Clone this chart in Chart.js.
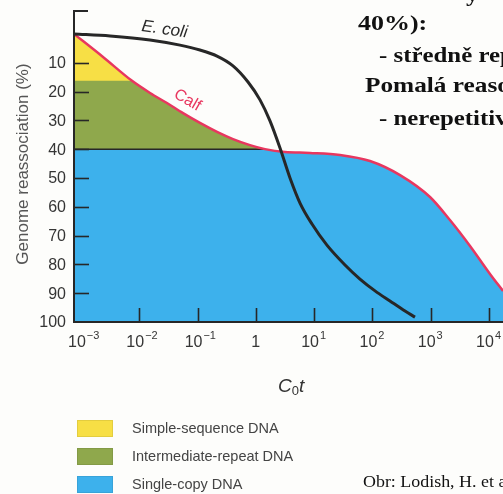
<!DOCTYPE html>
<html>
<head>
<meta charset="utf-8">
<script src="https://cdn.jsdelivr.net/npm/chart.js@4"></script>
<style>
    html, body { margin: 0; padding: 0; background: #fdfdfb; }
    #wrap { width: 503px; height: 494px; }
</style>
</head>
<body>
<div id="wrap"><canvas id="chart" width="503" height="494"></canvas></div>
<script>
// C0t values and % reassociated
const ecoliCot = [0.00076, 0.00316, 0.0153, 0.050, 0.110, 0.216, 0.406, 0.735, 1.18, 1.75, 2.60, 3.86, 5.73, 9.2, 16.6, 33.9, 61.2, 111, 200, 363, 538];
const ecoliPct = [0, 0.7, 2.1, 3.9, 5.6, 7.7, 11.1, 16.7, 22.9, 30.2, 39.6, 50.0, 58.7, 66.0, 73.3, 80.2, 85.1, 89.2, 92.7, 96.2, 98.3];

const calfCot = [0.00076, 0.00239, 0.00752, 0.0153, 0.0299, 0.0564, 0.110, 0.216, 0.406, 0.794, 1.44, 3.17, 8.5, 27.8, 91, 298, 973, 2140, 4730, 10400, 17400];
const calfPct = [0, 8.0, 16.3, 20.5, 24.0, 27.5, 30.9, 34.0, 36.5, 38.6, 40, 41.0, 41.3, 42.0, 44.1, 49.0, 56.6, 64.6, 73.6, 83.3, 89.2];

const simpleLimit = 16.3;  // hranice simple-sequence / intermediate-repeat
const repeatLimit = 40;    // hranice intermediate-repeat / single-copy
const simpleEnd = 3;       // počet bodů křivky Calf do simpleLimit
const repeatEnd = 11;      // počet bodů křivky Calf do repeatLimit

const yTicks = [10, 20, 30, 40, 50, 60, 70, 80, 90, 100];
const xTickExps = [-3, -2, -1, 0, 1, 2, 3, 4];
const legendLabels = ['Simple-sequence DNA', 'Intermediate-repeat DNA', 'Single-copy DNA'];

const YELLOW = '#f7df45', GREEN = '#8fa84c', BLUE = '#3db1ec', RED = '#e8375f', INK = '#272727';
const SANS = '"Liberation Sans", Arial, sans-serif';
const SERIF = '"Liberation Serif", "Times New Roman", serif';

const calf = calfCot.map((x, i) => ({ x, y: calfPct[i] }));
const ecoli = ecoliCot.map((x, i) => ({ x, y: ecoliPct[i] }));

const line = { pointRadius: 0, cubicInterpolationMode: 'monotone' };

function stretchedText(ctx, text, x, y, sx) {
    ctx.save();
    ctx.translate(x, y);
    ctx.scale(sx, 1);
    ctx.fillText(text, 0, 0);
    ctx.restore();
}

const decor = {
    id: 'decor',
    afterDraw(chart) {
        const ctx = chart.ctx, xs = chart.scales.x, ys = chart.scales.y;
        const area = chart.chartArea;
        ctx.save();
        ctx.strokeStyle = INK;
        ctx.lineCap = 'butt';

        // osy
        ctx.lineWidth = 2;
        ctx.beginPath();
        ctx.moveTo(area.left + 14, area.top + 1);
        ctx.lineTo(area.left, area.top + 1);
        ctx.lineTo(area.left, area.bottom);
        ctx.lineTo(area.right, area.bottom);
        ctx.stroke();

        // vnitřní značky
        ctx.lineWidth = 1.6;
        yTicks.slice(0, -1).forEach(v => {
            const py = Math.round(ys.getPixelForValue(v)) + 0.5;
            ctx.beginPath(); ctx.moveTo(area.left, py); ctx.lineTo(area.left + 15, py); ctx.stroke();
        });
        xTickExps.slice(1).forEach(e => {
            const px = Math.round(xs.getPixelForValue(Math.pow(10, e))) + 0.5;
            ctx.beginPath(); ctx.moveTo(px, area.bottom); ctx.lineTo(px, area.bottom - 14); ctx.stroke();
        });

        // popisky osy y
        ctx.fillStyle = '#353535';
        ctx.font = '16px ' + SANS;
        ctx.textAlign = 'right';
        ctx.textBaseline = 'middle';
        yTicks.forEach(v => ctx.fillText(String(v), area.left - 8, ys.getPixelForValue(v) + 1));

        // popisky osy x s exponenty
        ctx.textBaseline = 'alphabetic';
        xTickExps.forEach(e => {
            const px = xs.getPixelForValue(Math.pow(10, e));
            ctx.font = '16px ' + SANS;
            if (e === 0) {
                ctx.textAlign = 'center';
                ctx.fillText('1', px, 347);
                return;
            }
            const w = ctx.measureText('10').width;
            const left = px - 4 - w / 2;
            ctx.textAlign = 'left';
            ctx.fillText('10', left, 347);
            ctx.font = '11px ' + SANS;
            ctx.fillText(e < 0 ? '\u2212' + (-e) : String(e), left + w + 1, 339);
        });

        // název osy x: C0t
        ctx.fillStyle = '#333';
        ctx.textAlign = 'left';
        ctx.font = 'italic 19px ' + SANS;
        let cx = 278;
        ctx.fillText('C', cx, 392);
        cx += ctx.measureText('C').width;
        ctx.font = '13px ' + SANS;
        ctx.fillText('0', cx, 395);
        cx += ctx.measureText('0').width;
        ctx.font = 'italic 19px ' + SANS;
        ctx.fillText('t', cx, 392);

        // název osy y
        ctx.save();
        ctx.translate(28, 164);
        ctx.rotate(-Math.PI / 2);
        ctx.textAlign = 'center';
        ctx.fillStyle = '#555';
        ctx.font = '17px ' + SANS;
        ctx.fillText('Genome reassociation (%)', 0, 0);
        ctx.restore();

        // popisky křivek
        ctx.save();
        ctx.translate(141, 31);
        ctx.rotate(0.14);
        ctx.fillStyle = '#2a2a2a';
        ctx.font = 'italic 17px ' + SANS;
        ctx.textAlign = 'left';
        ctx.fillText('E. coli', 0, 0);
        ctx.restore();

        ctx.save();
        ctx.translate(173, 97);
        ctx.rotate(0.52);
        ctx.fillStyle = RED;
        ctx.font = '16px ' + SANS;
        ctx.fillText('Calf', 0, 0);
        ctx.restore();

        // legenda
        [YELLOW, GREEN, BLUE].forEach((c, i) => {
            const top = 420 + i * 28;
            ctx.fillStyle = c;
            ctx.fillRect(77, top, 36, 17);
            ctx.strokeStyle = 'rgba(0,0,0,0.08)';
            ctx.lineWidth = 1;
            ctx.strokeRect(77.5, top + 0.5, 35, 16);
            ctx.fillStyle = '#444';
            ctx.font = '14.5px ' + SANS;
            ctx.textBaseline = 'middle';
            ctx.fillText(legendLabels[i], 132, top + 9);
        });

        // text ze slajdu
        ctx.textBaseline = 'alphabetic';
        ctx.fillStyle = '#111';
        ctx.font = 'bold 22px ' + SERIF;
        stretchedText(ctx, 'y', 466, 1, 1.15);
        stretchedText(ctx, '40%):', 358, 30, 1.18);
        stretchedText(ctx, '- středně repetitivní', 379, 62, 1.13);
        stretchedText(ctx, 'Pomalá reasociace', 365, 92, 1.15);
        stretchedText(ctx, '- nerepetitivní', 379, 125, 1.13);
        ctx.font = '16px ' + SERIF;
        stretchedText(ctx, 'Obr: Lodish, H. et al.', 363, 487, 1.12);

        ctx.restore();
    }
};

new Chart(document.getElementById('chart'), {
    type: 'line',
    data: {
        datasets: [
            { ...line, data: ecoli, borderColor: INK, borderWidth: 3, fill: false, order: 0 },
            { ...line, data: calf, borderColor: RED, borderWidth: 2.5, fill: false, order: 1 },
            { ...line, data: [{ x: calfCot[0], y: repeatLimit }, { x: calfCot[repeatEnd - 1], y: repeatLimit }],
              borderColor: INK, borderWidth: 1.5, fill: false, order: 2 },
            { ...line, data: calf.slice(0, simpleEnd), borderWidth: 0, backgroundColor: YELLOW, fill: { value: simpleLimit }, order: 3 },
            { ...line, data: calf.slice(0, repeatEnd), borderWidth: 0, backgroundColor: GREEN, fill: { value: repeatLimit }, order: 4 },
            { ...line, data: calf, borderWidth: 0, backgroundColor: BLUE, fill: { value: 100 }, order: 5 }
        ]
    },
    options: {
        responsive: false,
        animation: false,
        layout: { padding: { left: 74, top: 10, right: 0, bottom: 172 } },
        plugins: { legend: { display: false }, tooltip: { enabled: false } },
        scales: {
            x: { type: 'logarithmic', min: 0.00076, max: 17400, display: false },
            y: { type: 'linear', reverse: true, min: -8.3, max: 100, display: false }
        }
    },
    plugins: [decor]
});
</script>
</body>
</html>
